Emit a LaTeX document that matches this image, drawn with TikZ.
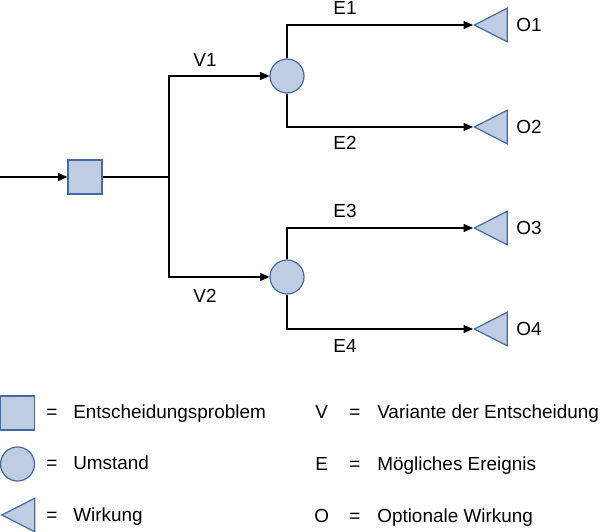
\documentclass[tikz,border=0pt]{standalone}
\usepackage{fontspec}
\setmainfont{Liberation Sans}
\usetikzlibrary{shapes.geometric,arrows.meta}
\definecolor{shapefill}{RGB}{191,205,227}
\definecolor{shapedraw}{RGB}{70,105,160}
\begin{document}
\begin{tikzpicture}[x=0.75pt,y=-0.75pt,
  every node/.style={font=\fontsize{14.2}{17}\selectfont},
  sq/.style={draw=shapedraw,fill=shapefill,line width=0.9pt,minimum size=25.5pt,inner sep=0pt},
  circ/.style={circle,draw=shapedraw,fill=shapefill,line width=0.9pt,minimum size=25.5pt,inner sep=0pt},
  tri/.style={isosceles triangle,isosceles triangle apex angle=54,shape border rotate=180,draw=shapedraw,fill=shapefill,line width=0.9pt,minimum height=24.75pt,inner sep=0pt,anchor=apex},
  conn/.style={line width=1pt,black},
  arr/.style={conn,-{Triangle[length=7pt,width=6pt]}},
  lbl/.style={inner sep=0pt,anchor=base west}
]
\useasboundingbox (0,0) rectangle (600,532);
% main tree
\coordinate (in) at (0,177);
\node[sq] (p) at (85,177) {};
\coordinate (b) at (169,177);
\node[circ] (c1) at (287,76) {};
\node[circ] (c2) at (287,277) {};
\node[tri] (t1) at (473,25) {};
\node[tri] (t2) at (473,127) {};
\node[tri] (t3) at (473,228) {};
\node[tri] (t4) at (473,329) {};
\draw[arr] (in) -- (p.west);
\draw[conn] (p.east) -- (b);
\draw[arr] (b) |- (c1.west);
\draw[arr] (b) |- (c2.west);
\draw[arr] (c1.north) |- (t1.apex);
\draw[arr] (c1.south) |- (t2.apex);
\draw[arr] (c2.north) |- (t3.apex);
\draw[arr] (c2.south) |- (t4.apex);
% labels
\node[inner sep=0pt] (v1) at (205,60) {V1};
\node[inner sep=0pt] (v2) at (205,296) {V2};
\node[inner sep=0pt] (e1) at (345,8) {E1};
\node[inner sep=0pt] (e2) at (345,143) {E2};
\node[inner sep=0pt] (e3) at (345,211) {E3};
\node[inner sep=0pt] (e4) at (345,346) {E4};
\node[inner sep=0pt] (o1) at (529,25) {O1};
\node[inner sep=0pt] (o2) at (529,127) {O2};
\node[inner sep=0pt] (o3) at (529,228) {O3};
\node[inner sep=0pt] (o4) at (529,329) {O4};
% legend
\node[sq] (ls) at (17.5,413) {};
\node[circ] (lc) at (17.5,464) {};
\node[tri] (lt) at (0.5,515) {};
\node[lbl] (eq1) at (46,418) {=};
\node[lbl] (eq2) at (46,469) {=};
\node[lbl] (eq3) at (46,521) {=};
\node[lbl] (tx1) at (73,418) {Entscheidungsproblem};
\node[lbl] (tx2) at (73,469) {Umstand};
\node[lbl] (tx3) at (73,521) {Wirkung};
\node[lbl] (k1) at (315,418) {V};
\node[lbl] (k2) at (315,470) {E};
\node[lbl] (k3) at (314,522) {O};
\node[lbl] (eq4) at (349,418) {=};
\node[lbl] (eq5) at (349,470) {=};
\node[lbl] (eq6) at (349,522) {=};
\node[lbl] (tx4) at (377,418) {Variante der Entscheidung};
\node[lbl] (tx5) at (377,470) {Mögliches Ereignis};
\node[lbl] (tx6) at (377,522) {Optionale Wirkung};
\end{tikzpicture}
\end{document}
